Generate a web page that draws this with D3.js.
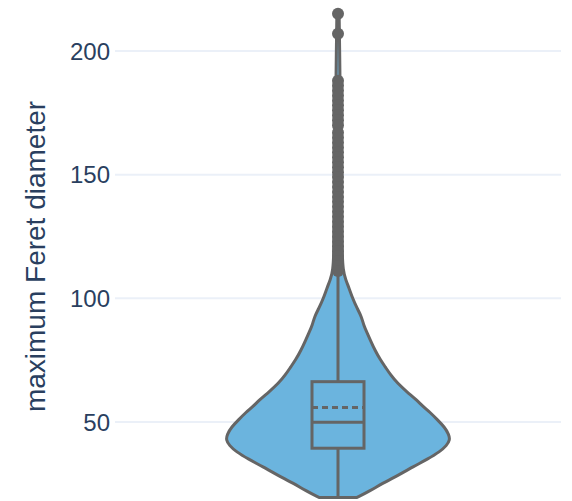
<!DOCTYPE html>
<html>
<head>
<meta charset="utf-8">
<script src="https://cdn.jsdelivr.net/npm/d3@7"></script>
<style>
  body { margin: 0; background: #fff; }
  svg { display: block; font-family: "Liberation Sans", Arial, sans-serif; }
</style>
</head>
<body>
<svg id="violin" width="572" height="501"></svg>
<script>
const traceName = 'feret'
const yTicks = [50, 100, 150, 200]

// kernel density outline (value, relative width)
const densityValues = [19.5, 22, 25.3, 28.5, 31.9, 35, 38, 40.5, 42.7, 45, 48, 50.8, 54, 56.2, 59, 62, 65.7,
  69, 72.4, 75, 79, 83, 86, 89, 92.6, 96, 100, 104, 107.4, 111, 120, 140, 160, 180, 200, 215]
const densityWidths = [0.17, 0.28, 0.40, 0.54, 0.67, 0.80, 0.91, 0.97, 1.0, 0.99, 0.95, 0.89, 0.82, 0.76, 0.70, 0.62, 0.53,
  0.47, 0.42, 0.38, 0.33, 0.29, 0.26, 0.23, 0.21, 0.17, 0.13, 0.10, 0.07, 0.045, 0.035, 0.03, 0.025, 0.02, 0.015, 0.01]

const boxStats = { lower: 19.5, q1: 39.4, median: 49.9, mean: 55.9, q3: 66.3, upper: 109 }

const outliers = [215, 207, 188, 186, 184, 182, 180, 178, 176, 174, 172, 170, 167, 165, 163, 161, 159, 157,
  155, 153, 151, 149, 147, 145, 143, 141, 139, 137, 135, 133, 131, 129, 127, 125, 123, 121, 119, 117, 115, 113, 111]

const lineColor = '#656565'
const fillColor = '#6bb4de'

const svg = d3.select('svg#violin')
const left = 115, right = 561

const y = d3.scaleLinear().domain([18.06, 220.6]).range([501, 0])
const x = d3.scalePoint().domain([traceName]).range([left, right]).padding(0.5)
const w = d3.scaleLinear().domain([0, 1]).range([0, 112])
const cx = x(traceName)
const boxHalf = 26

// grid
svg.append('g')
  .selectAll('line')
  .data(yTicks)
  .enter()
    .append('line')
      .attr('x1', left).attr('x2', right)
      .attr('y1', d => y(d)).attr('y2', d => y(d))
      .attr('stroke', '#ebf0f8')
      .attr('stroke-width', 2)

// tick labels
svg.append('g')
  .selectAll('text')
  .data(yTicks)
  .enter()
    .append('text')
      .attr('x', 110)
      .attr('y', d => y(d))
      .attr('dy', '0.36em')
      .attr('text-anchor', 'end')
      .attr('font-size', 24)
      .attr('fill', '#2a3f5f')
      .text(d => d)

svg.append('text')
  .attr('transform', `translate(45, ${y(18.06) / 2 + 6}) rotate(-90)`)
  .attr('text-anchor', 'middle')
  .attr('font-size', 28)
  .attr('fill', '#2a3f5f')
  .text('maximum Feret diameter')

const profile = densityValues.map((v, i) => ({ v, d: densityWidths[i] }))

const area = d3.area()
  .y(d => y(d.v))
  .x0(d => cx - w(d.d))
  .x1(d => cx + w(d.d))
  .curve(d3.curveBasis)

svg.append('path')
  .datum(profile)
  .attr('d', area)
  .attr('fill', fillColor)
  .attr('stroke', lineColor)
  .attr('stroke-width', 3)
  .attr('stroke-linejoin', 'round')

// box
const box = svg.append('g')
  .attr('stroke', lineColor)
  .attr('stroke-width', 3)
  .attr('fill', 'none')

box.append('line')
  .attr('x1', cx).attr('x2', cx)
  .attr('y1', y(boxStats.lower)).attr('y2', y(boxStats.q1))
box.append('line')
  .attr('x1', cx).attr('x2', cx)
  .attr('y1', y(boxStats.q3)).attr('y2', y(boxStats.upper))
box.append('rect')
  .attr('x', cx - boxHalf)
  .attr('y', y(boxStats.q3))
  .attr('width', boxHalf * 2)
  .attr('height', y(boxStats.q1) - y(boxStats.q3))
box.append('line')
  .attr('x1', cx - boxHalf).attr('x2', cx + boxHalf)
  .attr('y1', y(boxStats.median)).attr('y2', y(boxStats.median))
box.append('line')
  .attr('x1', cx - boxHalf).attr('x2', cx + boxHalf)
  .attr('y1', y(boxStats.mean)).attr('y2', y(boxStats.mean))
  .attr('stroke-dasharray', '6,4')

// outliers
svg.append('g')
  .selectAll('circle')
  .data(outliers)
  .enter()
    .append('circle')
      .attr('cx', cx)
      .attr('cy', d => y(d))
      .attr('r', 6)
      .attr('fill', lineColor)
</script>
</body>
</html>
